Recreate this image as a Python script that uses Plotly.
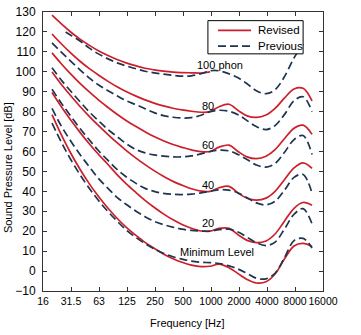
import numpy as np
import plotly.graph_objects as go

# ---------------- data ----------------
freq = [20, 25, 31.5, 40, 50, 63, 80, 100, 125, 160, 200, 250, 315, 400, 500, 630,
        800, 1000, 1250, 1600, 2000, 2500, 3150, 4000, 5000, 6300, 8000, 10000, 12500]

# Revised contours (ISO 226:2003)
rev_min = [78.5, 68.7, 59.5, 51.1, 44.0, 37.5, 31.5, 26.5, 22.1, 17.9, 14.4, 11.4, 8.6, 6.2, 4.4, 3.0,
           2.2, 2.4, 3.5, 1.7, -1.3, -4.2, -6.0, -5.4, -1.5, 6.0, 12.6, 13.9, 12.3]
rev_20 = [89.6, 82.7, 76.0, 69.6, 64.0, 58.6, 53.5, 48.4, 43.9, 39.4, 35.5, 32.0, 28.7, 25.7, 23.4, 21.5,
          20.1, 20.0, 21.4, 21.4, 18.2, 15.4, 14.3, 15.1, 18.6, 25.0, 31.5, 34.4, 33.0]
rev_40 = [99.9, 93.9, 88.2, 82.6, 77.8, 73.1, 68.5, 64.4, 60.6, 56.7, 53.4, 50.4, 47.6, 45.0, 43.1, 41.3,
          40.1, 40.0, 41.8, 42.5, 39.2, 36.5, 35.6, 36.6, 40.0, 45.8, 51.8, 54.3, 51.5]
rev_60 = [109.5, 104.2, 99.1, 94.2, 90.0, 85.9, 82.1, 78.7, 75.6, 72.5, 69.9, 67.5, 65.4, 63.5, 62.1, 60.8,
          59.9, 60.0, 62.2, 63.2, 60.0, 57.3, 56.4, 57.6, 60.9, 66.4, 71.7, 73.2, 68.6]
rev_80 = [119.0, 114.2, 109.6, 105.3, 101.7, 98.4, 95.2, 92.5, 90.1, 87.8, 85.9, 84.3, 82.9, 81.7, 80.9, 80.2,
          79.7, 80.0, 82.5, 83.7, 80.6, 77.9, 77.1, 78.3, 81.6, 86.8, 91.4, 91.7, 85.4]
rev_100_freq = [20, 25, 31.5, 40, 50, 63, 80, 100, 125, 160, 200, 250, 315, 400, 500, 630, 800, 1000]
rev_100 = [128.4, 124.2, 120.1, 116.4, 113.4, 110.6, 108.2, 106.2, 104.5, 103.0, 101.8, 101.0, 100.3,
           99.8, 99.6, 99.5, 99.4, 100.0]

# Previous contours (ISO 226:1987)
prev_min = [74.3, 65.0, 56.3, 48.4, 41.7, 35.5, 29.8, 25.1, 20.7, 16.8, 13.8, 11.2, 8.9, 7.2, 6.0, 5.0,
            4.4, 4.2, 3.8, 2.6, 1.0, -1.2, -3.6, -3.9, -1.1, 6.6, 15.3, 16.4, 11.6]
prev_20 = [81.6, 73.0, 65.5, 58.5, 52.5, 46.5, 41.5, 37.0, 33.5, 30.0, 27.3, 25.0, 23.3, 22.0, 21.0, 20.4,
           20.1, 20.0, 20.8, 21.0, 19.6, 17.0, 14.2, 12.8, 14.5, 21.0, 28.5, 31.3, 23.6]
prev_40 = [91.2, 84.5, 78.0, 71.5, 66.0, 60.5, 55.5, 51.0, 47.3, 44.0, 41.5, 40.0, 39.0, 38.5, 38.4, 38.6,
           39.2, 40.0, 40.8, 40.6, 39.2, 36.8, 34.2, 33.2, 35.0, 40.5, 47.0, 48.5, 39.0]
prev_60 = [102.0, 96.0, 90.5, 85.0, 80.0, 75.5, 71.0, 67.5, 64.0, 61.0, 59.3, 58.3, 57.7, 57.3, 57.3, 57.8,
           58.8, 60.0, 60.7, 60.3, 58.5, 56.0, 53.2, 52.2, 54.0, 59.5, 66.0, 68.0, 58.5]
prev_80 = [114.5, 110.0, 105.5, 101.0, 97.0, 93.5, 90.5, 88.0, 85.5, 83.5, 81.5, 79.5, 78.0, 77.2, 76.8, 77.0,
           78.2, 80.0, 80.7, 80.2, 78.5, 75.5, 72.5, 71.0, 73.0, 78.5, 85.5, 87.5, 80.0]
prev_100_freq = [28, 31.5, 40, 50, 63, 80, 100, 125, 160, 200, 250, 315, 400, 500, 630, 800, 1000,
                 1250, 1600, 2000, 2500, 3150, 4000, 5000, 6300, 8000, 10000]
prev_100 = [120.0, 118.5, 115.5, 112.0, 109.0, 106.5, 104.5, 103.0, 101.5, 100.3, 99.5, 98.8, 98.2, 97.8,
            98.0, 99.0, 100.5, 100.5, 99.0, 97.0, 94.0, 90.5, 89.0, 91.0, 97.5, 107.0, 114.0]

x_tick_vals = [16, 32, 64, 128, 256, 512, 1024, 2048, 4096, 8192, 16384]
x_tick_text = ["16", "31.5", "63", "125", "250", "500", "1000", "2000", "4000", "8000", "16000"]
y_tick_vals = [-10, 0, 10, 20, 30, 40, 50, 60, 70, 80, 90, 100, 110, 120, 130]

series_names = ["Revised", "Previous"]

# ---------------- style ----------------
RED = "#cc1f2a"
NAVY = "#1e3450"
DASH = "8px,4px"
FONT = "Liberation Sans, Arial, sans-serif"

fig = go.Figure()

revised = [(rev_100_freq, rev_100), (freq, rev_80), (freq, rev_60), (freq, rev_40), (freq, rev_20), (freq, rev_min)]
previous = [(prev_100_freq, prev_100), (freq, prev_80), (freq, prev_60), (freq, prev_40), (freq, prev_20), (freq, prev_min)]

for fx, vy in revised:
    fig.add_trace(go.Scatter(x=fx, y=vy, mode="lines", name=series_names[0], showlegend=False,
                             line=dict(color=RED, width=1.7, shape="spline", smoothing=1.0)))
for fx, vy in previous:
    fig.add_trace(go.Scatter(x=fx, y=vy, mode="lines", name=series_names[1], showlegend=False,
                             line=dict(color=NAVY, width=1.7, dash=DASH, shape="spline", smoothing=1.0)))

axis_common = dict(showline=True, linecolor="#333333", linewidth=1, mirror="ticks",
                   ticks="inside", ticklen=4, tickwidth=1, tickcolor="#333333",
                   showgrid=False, zeroline=False, ticklabeloverflow="allow")

fig.update_xaxes(type="log", range=[np.log10(16), np.log10(16384)],
                 tickmode="array", tickvals=x_tick_vals, ticktext=x_tick_text, tickangle=0,
                 tickfont=dict(family=FONT, size=10.5, color="black"), **axis_common)
fig.update_yaxes(range=[-10.02, 130.02], tickmode="array", tickvals=y_tick_vals,
                 ticklabelstandoff=4,
                 tickfont=dict(family=FONT, size=12, color="black"), **axis_common)

labels = [("100 phon", 1280, 103.2), ("80", 940, 83.0), ("60", 940, 63.4),
          ("40", 940, 43.2), ("20", 940, 24.0), ("Minimum Level", 1190, 9.8)]
for txt, fx, fy in labels:
    fig.add_annotation(x=np.log10(fx), y=fy, text=txt, showarrow=False,
                       xanchor="center", yanchor="middle",
                       font=dict(family=FONT, size=11, color="black"))

fig.add_annotation(x=0.516, y=-0.115, xref="paper", yref="paper", text="Frequency [Hz]",
                   showarrow=False, xanchor="center", yanchor="middle",
                   font=dict(family=FONT, size=11, color="black"))
fig.add_annotation(x=-0.127, y=0.442, xref="paper", yref="paper", text="Sound Pressure Level [dB]",
                   showarrow=False, textangle=-90, xanchor="center", yanchor="middle",
                   font=dict(family=FONT, size=11, color="black"))

# legend box (drawn above the curves, as in the original)
fig.add_shape(type="rect", xref="paper", yref="paper", x0=0.589, x1=0.929, y0=0.850, y1=0.969,
              fillcolor="white", line=dict(color="black", width=1), layer="above")
fig.add_shape(type="line", xref="paper", yref="paper", x0=0.625, x1=0.743, y0=0.934, y1=0.934,
              line=dict(color=RED, width=1.7), layer="above")
fig.add_shape(type="line", xref="paper", yref="paper", x0=0.625, x1=0.743, y0=0.878, y1=0.878,
              line=dict(color=NAVY, width=1.7, dash=DASH), layer="above")
for name, ly in zip(series_names, [0.934, 0.878]):
    fig.add_annotation(x=0.762, y=ly, xref="paper", yref="paper", text=name, showarrow=False,
                       xanchor="left", yanchor="middle",
                       font=dict(family=FONT, size=11.5, color="black"))

fig.update_layout(
    width=361, height=335,
    margin=dict(l=43, r=38, t=5, b=44),
    plot_bgcolor="white", paper_bgcolor="white",
    showlegend=False,
)

fig.write_html("out.html")
